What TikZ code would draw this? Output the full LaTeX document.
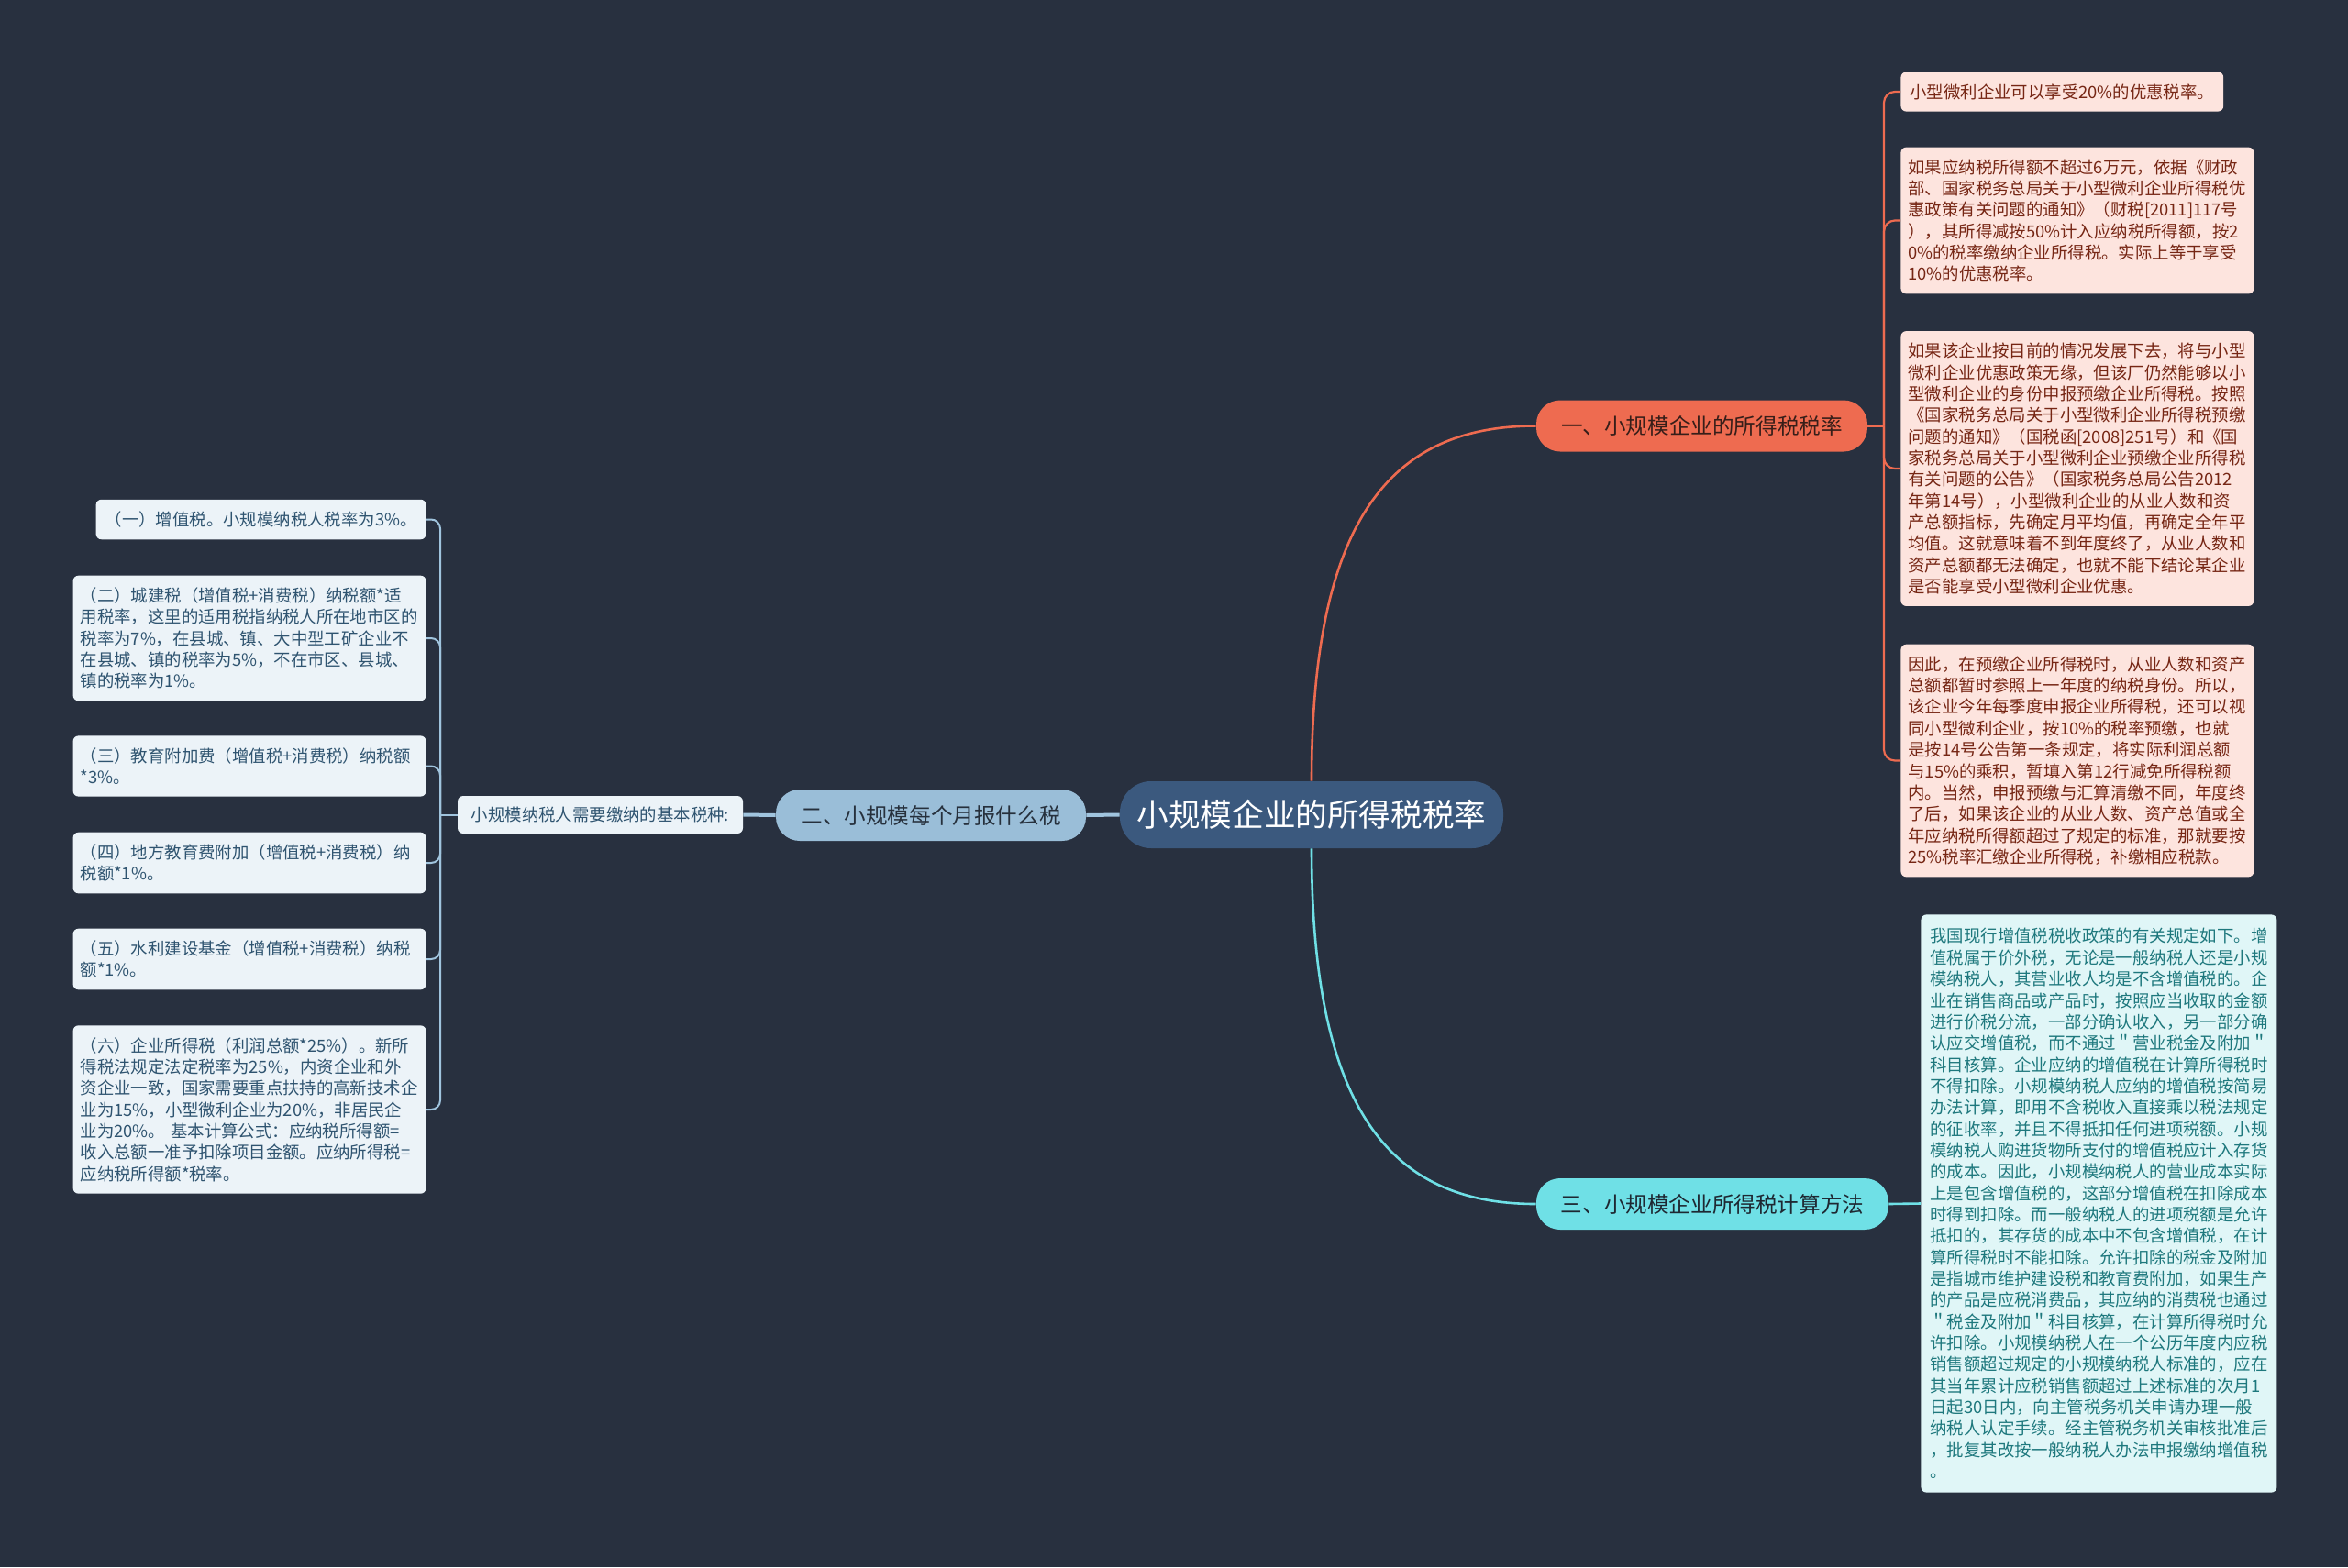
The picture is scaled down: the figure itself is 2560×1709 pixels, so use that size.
\documentclass[tikz,border=0pt]{standalone}
\usepackage{fontspec}
\setmainfont{Noto Sans CJK SC}
\definecolor{bgcol}{RGB}{40,48,63}
\definecolor{rootfill}{RGB}{59,89,126}
\definecolor{bonefill}{RGB}{238,107,80}
\definecolor{bonetext}{RGB}{55,30,25}
\definecolor{btwofill}{RGB}{154,190,216}
\definecolor{btwotext}{RGB}{38,48,60}
\definecolor{bthreefill}{RGB}{111,224,230}
\definecolor{bthreetext}{RGB}{30,40,50}
\definecolor{lfill}{RGB}{236,243,248}
\definecolor{ltext}{RGB}{47,84,112}
\definecolor{pfill}{RGB}{253,228,222}
\definecolor{ptext}{RGB}{118,38,20}
\definecolor{cfill}{RGB}{224,246,247}
\definecolor{ctext}{RGB}{30,120,125}
\definecolor{bluel}{RGB}{160,196,222}
\definecolor{orangel}{RGB}{238,107,80}
\definecolor{cyanl}{RGB}{111,224,230}
\newcommand{\leaffont}{\fontsize{9.2}{11.67}\selectfont}
\begin{document}
\begin{tikzpicture}[x=0.5pt,y=-0.5pt,
  rootbox/.style={fill=rootfill, text=white, rounded corners=17pt, minimum width=209pt, minimum height=36.5pt, inner sep=0pt, font=\fontsize{17.3}{20}\selectfont},
  branchbox/.style={rounded corners=13pt, minimum height=28pt, inner sep=0pt, font=\fontsize{11.8}{14}\selectfont},
  leafbase/.style={rounded corners=3pt, inner xsep=4pt, inner ysep=6.5pt, font=\leaffont, align=left},
  leftleaf/.style={leafbase, fill=lfill, text=ltext, anchor=east},
  pinkleaf/.style={leafbase, fill=pfill, text=ptext, anchor=west},
  cyanleaf/.style={leafbase, fill=cfill, text=ctext, anchor=west, inner xsep=5pt, inner ysep=7.5pt},
  wide/.style={text width=184.5pt},
  blueline/.style={draw=bluel, line width=2pt},
  blueleaf/.style={draw=bluel, line width=1pt, rounded corners=5pt},
  orangeline/.style={draw=orangel, line width=1.3pt},
  orangeleaf/.style={draw=orangel, line width=1.1pt, rounded corners=6pt},
  cyanline/.style={draw=cyanl, line width=1.3pt}
]
\fill[bgcol] (0,0) rectangle (2560,1709);
\useasboundingbox (0,0) rectangle (2560,1709);

% main nodes
\node[rootbox] (c) at (1430,888.5) {小规模企业的所得税税率};
\node[branchbox, fill=bonefill, text=bonetext, minimum width=180.5pt] (b1) at (1855.5,464.5) {一、小规模企业的所得税税率};
\node[branchbox, fill=btwofill, text=btwotext, minimum width=169pt] (b2) at (1015,889) {二、小规模每个月报什么税};
\node[branchbox, fill=bthreefill, text=bthreetext, minimum width=192pt] (b3) at (1867,1313) {三、小规模企业所得税计算方法};
\node[rounded corners=3pt, fill=lfill, text=ltext, font=\leaffont, minimum width=155.5pt, minimum height=20.5pt, inner sep=0pt] (lev) at (654.5,888.5) {小规模纳税人需要缴纳的基本税种:};

% left leaves
\node[leftleaf, inner xsep=5pt] (l1) at (465,566.5) {（一）增值税。小规模纳税人税率为3\%。};
\node[leftleaf, wide] (l2) at (465,696) {（二）城建税（增值税+消费税）纳税额*适\\用税率，这里的适用税指纳税人所在地市区的\\税率为7\%，在县城、镇、大中型工矿企业不\\在县城、镇的税率为5\%，不在市区、县城、\\镇的税率为1\%。};
\node[leftleaf, wide] (l3) at (465,835.5) {（三）教育附加费（增值税+消费税）纳税额\\{}*3\%。};
\node[leftleaf, wide] (l4) at (465,941) {（四）地方教育费附加（增值税+消费税）纳\\税额*1\%。};
\node[leftleaf, wide] (l5) at (465,1046) {（五）水利建设基金（增值税+消费税）纳税\\额*1\%。};
\node[leftleaf, wide] (l6) at (465,1210) {（六）企业所得税（利润总额*25\%）。新所\\得税法规定法定税率为25\%，内资企业和外\\资企业一致，国家需要重点扶持的高新技术企\\业为15\%，小型微利企业为20\%，非居民企\\业为20\%。~基本计算公式：应纳税所得额=\\收入总额一准予扣除项目金额。应纳所得税=\\应纳税所得额*税率。};

% right pink leaves
\node[pinkleaf, inner xsep=5pt] (r1) at (2072,100) {小型微利企业可以享受20\%的优惠税率。};
\node[pinkleaf, wide] (r2) at (2072,240.5) {如果应纳税所得额不超过6万元，依据《财政\\部、国家税务总局关于小型微利企业所得税优\\惠政策有关问题的通知》（财税[2011]117号\\），其所得减按50\%计入应纳税所得额，按2\\0\%的税率缴纳企业所得税。实际上等于享受\\10\%的优惠税率。};
\node[pinkleaf, wide] (r3) at (2072,511) {如果该企业按目前的情况发展下去，将与小型\\微利企业优惠政策无缘，但该厂仍然能够以小\\型微利企业的身份申报预缴企业所得税。按照\\《国家税务总局关于小型微利企业所得税预缴\\问题的通知》（国税函[2008]251号）和《国\\家税务总局关于小型微利企业预缴企业所得税\\有关问题的公告》（国家税务总局公告2012\\年第14号），小型微利企业的从业人数和资\\产总额指标，先确定月平均值，再确定全年平\\均值。这就意味着不到年度终了，从业人数和\\资产总额都无法确定，也就不能下结论某企业\\是否能享受小型微利企业优惠。};
\node[pinkleaf, wide] (r4) at (2072,829.5) {因此，在预缴企业所得税时，从业人数和资产\\总额都暂时参照上一年度的纳税身份。所以，\\该企业今年每季度申报企业所得税，还可以视\\同小型微利企业，按10\%的税率预缴，也就\\是按14号公告第一条规定，将实际利润总额\\与15\%的乘积，暂填入第12行减免所得税额\\内。当然，申报预缴与汇算清缴不同，年度终\\了后，如果该企业的从业人数、资产总值或全\\年应纳税所得额超过了规定的标准，那就要按\\25\%税率汇缴企业所得税，补缴相应税款。};

% cyan leaf
\node[cyanleaf, text width=184pt] (r5) at (2094,1312.5) {我国现行增值税税收政策的有关规定如下。增\\值税属于价外税，无论是一般纳税人还是小规\\模纳税人，其营业收人均是不含增值税的。企\\业在销售商品或产品时，按照应当收取的金额\\进行价税分流，一部分确认收入，另一部分确\\认应交增值税，而不通过＂营业税金及附加＂\\科目核算。企业应纳的增值税在计算所得税时\\不得扣除。小规模纳税人应纳的增值税按简易\\办法计算，即用不含税收入直接乘以税法规定\\的征收率，并且不得抵扣任何进项税额。小规\\模纳税人购进货物所支付的增值税应计入存货\\的成本。因此，小规模纳税人的营业成本实际\\上是包含增值税的，这部分增值税在扣除成本\\时得到扣除。而一般纳税人的进项税额是允许\\抵扣的，其存货的成本中不包含增值税，在计\\算所得税时不能扣除。允许扣除的税金及附加\\是指城市维护建设税和教育费附加，如果生产\\的产品是应税消费品，其应纳的消费税也通过\\＂税金及附加＂科目核算，在计算所得税时允\\许扣除。小规模纳税人在一个公历年度内应税\\销售额超过规定的小规模纳税人标准的，应在\\其当年累计应税销售额超过上述标准的次月1\\日起30日内，向主管税务机关申请办理一般\\纳税人认定手续。经主管税务机关审核批准后\\，批复其改按一般纳税人办法申报缴纳增值税\\。};

% connectors
\draw[blueline] (c.west) -- (b2.east);
\draw[blueline] (b2.west) -- (lev.east);
\coordinate (jl) at (480,888.5);
\draw[blueleaf] (lev.west) -- (jl);
\foreach \n in {l1,l2,l3,l4,l5,l6} \draw[blueleaf] (jl) |- (\n.east);

\draw[orangeline] (c.north) .. controls (1430,560) and (1520,464.5) .. (b1.west);
\coordinate (jr) at (2054,464.5);
\draw[orangeline] (b1.east) -- (jr);
\foreach \n in {r1,r2,r3,r4} \draw[orangeleaf] (jr) |- (\n.west);

\draw[cyanline] (c.south) .. controls (1430,1217) and (1520,1313) .. (b3.west);
\draw[cyanline] (b3.east) -- (r5.west);
\end{tikzpicture}
\end{document}
